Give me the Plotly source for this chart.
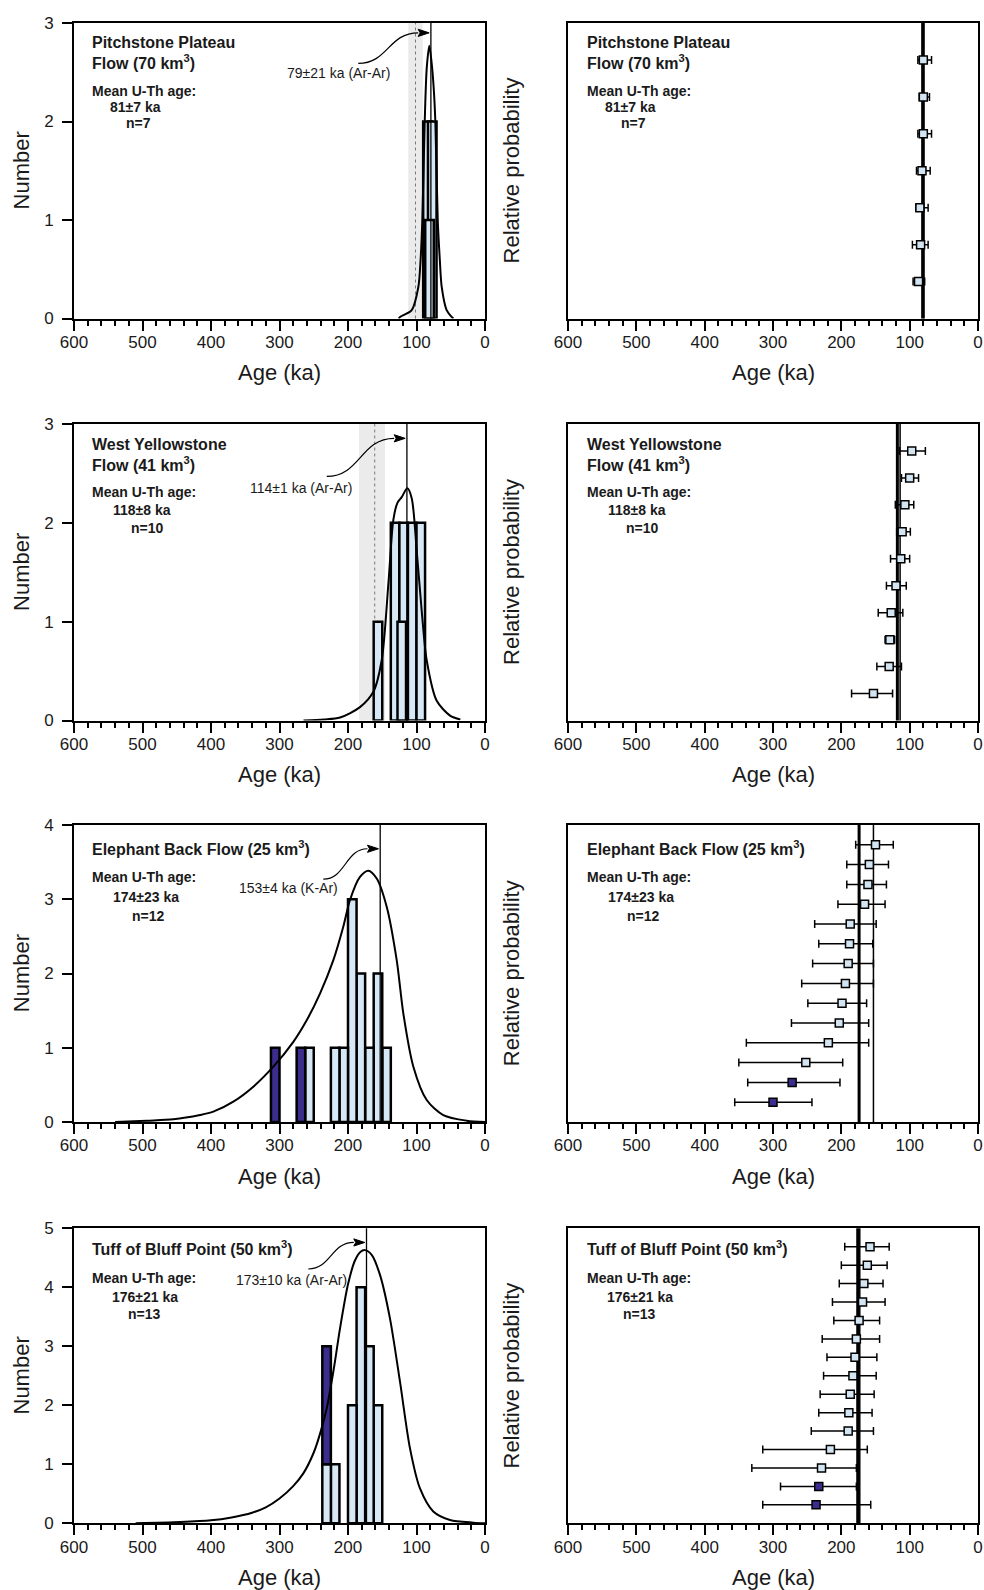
import plotly.graph_objects as go

# ---------------- data ----------------
# Pitchstone Plateau Flow
pp_ages = [80, 80, 80, 82, 85, 84, 87]
pp_err_old = [8, 6, 8, 8, 6, 12, 8]
pp_err_young = [12, 9, 12, 12, 12, 11, 9]
pp_excluded = [0, 0, 0, 0, 0, 0, 0]
pp_bin_age = [84, 77, 81]
pp_bin_count = [2, 2, 1]
pp_dark_bin_age = []
pp_dark_bin_count = []
pp_dark_bin_base = []
pp_curve_age = [126, 124, 107, 97.3, 94, 91.5, 88, 85, 81.3, 78, 75, 72.5, 69, 66, 63.2, 56, 48.6, 46]
pp_curve_val = [0, 0.016, 0.085, 0.32, 0.6, 1.0, 2.0, 2.55, 2.77, 2.6, 2.35, 2.0, 1.0, 0.6, 0.32, 0.085, 0.016, 0]
pp_mean, pp_mean_err = 81, 7
pp_dated, pp_dated_err, pp_dated_method = 79, 21, "Ar-Ar"
pp_ref_range, pp_ref_mid = [91, 112], 101.5
pp_ymax = 3

# West Yellowstone Flow
wy_ages = [97, 100, 107, 111, 113, 120, 127, 129, 130, 153]
wy_err_old = [18, 12, 14, 8, 15, 14, 19, 7, 18, 32]
wy_err_young = [20, 13, 13, 12, 13, 15, 17, 7, 18, 28]
wy_excluded = [0, 0, 0, 0, 0, 0, 0, 0, 0, 0]
wy_bin_age = [156.25, 131.25, 118.75, 106.25, 93.75, 121.5]
wy_bin_count = [1, 2, 2, 2, 2, 1]
wy_dark_bin_age = []
wy_dark_bin_count = []
wy_dark_bin_base = []
wy_curve_age = [265, 235, 211.6, 182.5, 163, 150.8, 141, 133.8, 128, 121.6, 113.4, 107, 99.7, 92.4, 85.1, 70.5, 51, 36]
wy_curve_val = [0, 0.01, 0.03, 0.135, 0.29, 0.61, 1.39, 2.03, 2.2, 2.26, 2.35, 2.25, 1.72, 1.11, 0.61, 0.2, 0.05, 0.01]
wy_mean, wy_mean_err = 118, 8
wy_dated, wy_dated_err, wy_dated_method = 114, 1, "Ar-Ar"
wy_ref_range, wy_ref_mid = [146, 184], 161
wy_ymax = 3

# Elephant Back Flow
eb_ages = [150, 159, 161, 166, 187, 188, 190, 194, 199, 203, 219, 252, 272, 300]
eb_err_old = [29, 33, 31, 39, 52, 45, 52, 64, 50, 70, 120, 98, 65, 56]
eb_err_young = [26, 28, 27, 30, 38, 34, 37, 41, 36, 43, 59, 54, 70, 57]
eb_excluded = [0, 0, 0, 0, 0, 0, 0, 0, 0, 0, 0, 0, 1, 1]
eb_bin_age = [143.75, 156.25, 168.75, 181.25, 193.75, 206.25, 218.75, 256.25]
eb_bin_count = [1, 2, 1, 2, 3, 1, 1, 1]
eb_dark_bin_age = [268.75, 306.25]
eb_dark_bin_count = [1, 1]
eb_dark_bin_base = [0, 0]
eb_curve_age = [540, 494, 455, 416, 396.6, 367.4, 338.2, 309, 279.8, 260.3, 240.9, 221.4, 206.9, 197.1,
                182.5, 170.3, 158.1, 143.5, 128.9, 119.2, 104.6, 85.1, 60.9, 26.7, 0]
eb_curve_val = [0, 0.018, 0.036, 0.094, 0.139, 0.274, 0.476, 0.745, 1.08, 1.37, 1.73, 2.18, 2.63, 2.99,
                3.30, 3.385, 3.28, 2.90, 2.18, 1.46, 0.745, 0.296, 0.094, 0.018, 0]
eb_mean, eb_mean_err = 174, 23
eb_dated, eb_dated_err, eb_dated_method = 153, 4, "K-Ar"
eb_ymax = 4

# Tuff of Bluff Point
bp_ages = [158, 162, 167, 169, 174, 178, 180, 183, 187, 189, 190, 216, 229, 233, 237]
bp_err_old = [37, 38, 36, 44, 37, 50, 41, 43, 44, 44, 54, 99, 102, 56, 78]
bp_err_young = [28, 29, 28, 33, 30, 34, 32, 34, 35, 34, 37, 54, 51, 55, 80]
bp_excluded = [0, 0, 0, 0, 0, 0, 0, 0, 0, 0, 0, 0, 0, 1, 1]
bp_bin_age = [156.25, 168.75, 181.25, 193.75, 218.75, 231.25]
bp_bin_count = [2, 3, 4, 2, 1, 1]
bp_dark_bin_age = [231.25]
bp_dark_bin_count = [2]
bp_dark_bin_base = [1]
bp_curve_age = [510, 445, 400, 370, 340, 320, 300, 280, 265, 250, 240, 231, 221, 211.7, 200, 190, 182,
                175.2, 165.4, 153.3, 138.7, 124.1, 109.5, 94.9, 75.5, 51.1, 17, 0]
bp_curve_val = [0, 0.02, 0.05, 0.1, 0.18, 0.27, 0.42, 0.63, 0.85, 1.2, 1.55, 1.95, 2.6, 3.3, 4.05, 4.45, 4.6,
                4.63, 4.55, 4.21, 3.47, 2.40, 1.27, 0.59, 0.20, 0.056, 0.011, 0]
bp_mean, bp_mean_err = 176, 21
bp_dated, bp_dated_err, bp_dated_method = 173, 10, "Ar-Ar"
bp_ymax = 5

BIN_WIDTH = 12.5
AGE_RANGE = [600, 0]

# ---------------- panel assembly ----------------
panels = [
    dict(title=["Pitchstone Plateau", "Flow (70 km<sup>3</sup>)"],
         ages=pp_ages, err_old=pp_err_old, err_young=pp_err_young, excluded=pp_excluded,
         bin_age=pp_bin_age, bin_count=pp_bin_count,
         dark_age=pp_dark_bin_age, dark_count=pp_dark_bin_count, dark_base=pp_dark_bin_base,
         curve_age=pp_curve_age, curve_val=pp_curve_val,
         mean=pp_mean, mean_err=pp_mean_err, dated=pp_dated, dated_err=pp_dated_err,
         method=pp_dated_method, ref=(pp_ref_range, pp_ref_mid), ymax=pp_ymax,
         title_y=[42.7, 61.7], info_y=[91, 106.7, 122.7], info_dx=[16, 33.7, 50],
         label_c=(338, 73.3), arrow_from=(185, 2.59), arrow_v=2.90),
    dict(title=["West Yellowstone", "Flow (41 km<sup>3</sup>)"],
         ages=wy_ages, err_old=wy_err_old, err_young=wy_err_young, excluded=wy_excluded,
         bin_age=wy_bin_age, bin_count=wy_bin_count,
         dark_age=wy_dark_bin_age, dark_count=wy_dark_bin_count, dark_base=wy_dark_bin_base,
         curve_age=wy_curve_age, curve_val=wy_curve_val,
         mean=wy_mean, mean_err=wy_mean_err, dated=wy_dated, dated_err=wy_dated_err,
         method=wy_dated_method, ref=(wy_ref_range, wy_ref_mid), ymax=wy_ymax,
         title_y=[444.3, 464], info_y=[492.3, 510, 527.7], info_dx=[16, 37, 55.3],
         label_c=(301, 488.3), arrow_from=(231, 2.47), arrow_v=2.855),
    dict(title=["Elephant Back Flow (25 km<sup>3</sup>)"],
         ages=eb_ages, err_old=eb_err_old, err_young=eb_err_young, excluded=eb_excluded,
         bin_age=eb_bin_age, bin_count=eb_bin_count,
         dark_age=eb_dark_bin_age, dark_count=eb_dark_bin_count, dark_base=eb_dark_bin_base,
         curve_age=eb_curve_age, curve_val=eb_curve_val,
         mean=eb_mean, mean_err=eb_mean_err, dated=eb_dated, dated_err=eb_dated_err,
         method=eb_dated_method, ref=None, ymax=eb_ymax,
         title_y=[847.7], info_y=[876.7, 896.7, 915.7], info_dx=[16, 37, 56],
         label_c=(288, 888.3), arrow_from=(236, 3.27), arrow_v=3.68),
    dict(title=["Tuff of Bluff Point (50 km<sup>3</sup>)"],
         ages=bp_ages, err_old=bp_err_old, err_young=bp_err_young, excluded=bp_excluded,
         bin_age=bp_bin_age, bin_count=bp_bin_count,
         dark_age=bp_dark_bin_age, dark_count=bp_dark_bin_count, dark_base=bp_dark_bin_base,
         curve_age=bp_curve_age, curve_val=bp_curve_val,
         mean=bp_mean, mean_err=bp_mean_err, dated=bp_dated, dated_err=bp_dated_err,
         method=bp_dated_method, ref=None, ymax=bp_ymax,
         title_y=[1248.3], info_y=[1278.3, 1297.3, 1314], info_dx=[16, 36, 52],
         label_c=(291, 1280), arrow_from=(258, 4.31), arrow_v=4.76),
]

# ---------------- page geometry (pixels) ----------------
W, H = 984, 1590
COL_X = [(74, 485), (568, 978)]
ROW_Y = [(23, 318.5), (424, 720.5), (825, 1122), (1228.3, 1523.3)]

FONT = "Liberation Sans, Arial, Helvetica, sans-serif"
INK = "#1a1a1a"
BAR_FILL = "#d6e8f5"
DOT_FILL = "#d3e5f2"
EXCL_FILL = "#3a2d8e"
BAND = "#ebebeb"


def px_x(px):
    return px / W


def px_y(py):
    return 1 - py / H


fig = go.Figure()
layout = dict(width=W, height=H, margin=dict(l=0, r=0, t=0, b=0, pad=0, autoexpand=False),
              paper_bgcolor="white", plot_bgcolor="white", showlegend=False,
              barmode="overlay", font=dict(family=FONT, color=INK))
shapes, annotations = [], []


def text(xpx, ypx, s, size, anchor="left", bold=False, angle=0):
    annotations.append(dict(xref="paper", yref="paper", x=px_x(xpx), y=px_y(ypx),
                            text=f"<b>{s}</b>" if bold else s, showarrow=False,
                            xanchor=anchor, yanchor="middle", textangle=angle,
                            font=dict(family=FONT, size=size, color=INK)))


for r, p in enumerate(panels):
    top, bot = ROW_Y[r]
    n_used = sum(1 for e in p["excluded"] if not e)
    info_lines = ["Mean U-Th age:", f"{p['mean']}±{p['mean_err']} ka", f"n={n_used}"]
    for c in (0, 1):
        k = 2 * r + c + 1
        sfx = "" if k == 1 else str(k)
        xr, yr = "x" + sfx, "y" + sfx
        x0, x1 = COL_X[c]
        xa = dict(domain=[px_x(x0), px_x(x1)], anchor=yr, range=AGE_RANGE, automargin=False,
                  showgrid=False, zeroline=False, showline=True, linecolor="black",
                  linewidth=2, mirror=True, tickmode="linear", tick0=0, dtick=100,
                  ticks="outside", ticklen=10, tickwidth=2, tickcolor="black",
                  ticklabelstandoff=-3,
                  tickfont=dict(family=FONT, size=17, color=INK),
                  minor=dict(tick0=0, dtick=20, ticks="outside", ticklen=5,
                             tickwidth=1.5, tickcolor="black"))
        ya = dict(domain=[px_y(bot), px_y(top)], anchor=xr, showgrid=False, automargin=False,
                  zeroline=False, showline=True, linecolor="black", linewidth=2,
                  mirror=True)
        if c == 0:
            ya.update(range=[0, p["ymax"]], tickmode="linear", tick0=0, dtick=1,
                      ticks="outside", ticklen=10, tickwidth=1.5, tickcolor="black",
                      ticklabelstandoff=5,
                      tickfont=dict(family=FONT, size=17, color=INK))
        else:
            ya.update(range=[0, len(p["ages"]) + 1], ticks="", showticklabels=False)
        layout["xaxis" + sfx] = xa
        layout["yaxis" + sfx] = ya

        if c == 0:
            # earlier published age: shaded range and dotted centre
            if p["ref"] is not None:
                (lo, hi), mid = p["ref"]
                shapes.append(dict(type="rect", xref=xr, yref=yr + " domain", x0=lo, x1=hi,
                                   y0=0, y1=1, fillcolor=BAND, line=dict(width=0), layer="below"))
                shapes.append(dict(type="line", xref=xr, yref=yr + " domain", x0=mid, x1=mid,
                                   y0=0, y1=1, line=dict(color="#777777", width=1, dash="dot"),
                                   layer="below"))
            fig.add_trace(go.Bar(x=p["bin_age"], y=p["bin_count"], width=BIN_WIDTH,
                                 marker=dict(color=BAR_FILL, line=dict(color="black", width=2.5)),
                                 xaxis=xr, yaxis=yr, hoverinfo="skip"))
            if p["dark_age"]:
                fig.add_trace(go.Bar(x=p["dark_age"], y=p["dark_count"], base=p["dark_base"],
                                     width=BIN_WIDTH,
                                     marker=dict(color=EXCL_FILL, line=dict(color="black", width=2.5)),
                                     xaxis=xr, yaxis=yr, hoverinfo="skip"))
            fig.add_trace(go.Scatter(x=p["curve_age"], y=p["curve_val"], mode="lines",
                                     line=dict(color="black", width=2, shape="spline", smoothing=0.8),
                                     xaxis=xr, yaxis=yr, hoverinfo="skip"))
            # eruption age line with curved call-out and a filled arrowhead
            shapes.append(dict(type="line", xref=xr, yref=yr + " domain", x0=p["dated"],
                               x1=p["dated"], y0=0, y1=1, line=dict(color="black", width=1.3),
                               layer="above"))
            ka_per_px = abs(AGE_RANGE[0] - AGE_RANGE[1]) / (x1 - x0)
            val_per_px = p["ymax"] / (bot - top)
            a0, v0 = p["arrow_from"]
            tip = p["dated"] + 2.5
            v1 = p["arrow_v"]
            head_base = tip + 11 * ka_per_px
            half = 3.6 * val_per_px
            mid = (a0 + head_base) / 2
            shapes.append(dict(type="path", xref=xr, yref=yr,
                               path=f"M {a0},{v0} C {mid},{v0} {mid},{v1} {head_base},{v1}",
                               line=dict(color="black", width=1.2), layer="above"))
            shapes.append(dict(type="path", xref=xr, yref=yr,
                               path=f"M {tip},{v1} L {head_base},{v1 + half} "
                                    f"L {head_base - 2 * ka_per_px},{v1} L {head_base},{v1 - half} Z",
                               fillcolor="black", line=dict(color="black", width=1), layer="above"))
            lx, ly = p["label_c"]
            text(lx, ly, f"{p['dated']}±{p['dated_err']} ka ({p['method']})", 14, anchor="center")
        else:
            n = len(p["ages"])
            ypos = [n - i for i in range(n)]
            shapes.append(dict(type="line", xref=xr, yref=yr + " domain", x0=p["dated"],
                               x1=p["dated"], y0=0, y1=1, line=dict(color="black", width=1.5),
                               layer="below"))
            shapes.append(dict(type="line", xref=xr, yref=yr + " domain", x0=p["mean"],
                               x1=p["mean"], y0=0, y1=1, line=dict(color="black", width=3),
                               layer="below"))
            fig.add_trace(go.Scatter(
                x=p["ages"], y=ypos, mode="markers",
                marker=dict(symbol="square", size=8,
                            color=[EXCL_FILL if e else DOT_FILL for e in p["excluded"]],
                            line=dict(color="black", width=1.5)),
                error_x=dict(type="data", symmetric=False, array=p["err_old"],
                             arrayminus=p["err_young"], color="black", thickness=1.5, width=4),
                xaxis=xr, yaxis=yr, hoverinfo="skip"))

        # panel captions
        shift = 0 if c == 0 else 1
        for line, ty in zip(p["title"], p["title_y"]):
            text(x0 + 16 + shift, ty, line, 16, bold=True)
        for line, iy, dx in zip(info_lines, p["info_y"], p["info_dx"]):
            text(x0 + dx + shift, iy, line, 14, bold=True)

        # axis titles
        text((x0 + x1) / 2, bot + 54, "Age (ka)", 22, anchor="center")
        if c == 0:
            text(21.7, (top + bot) / 2, "Number", 22, anchor="center", angle=-90)
        else:
            text(511.7, (top + bot) / 2, "Relative probability", 22, anchor="center", angle=-90)

layout["shapes"] = shapes
layout["annotations"] = annotations
fig.update_layout(**layout)
fig.write_html("out.html")
